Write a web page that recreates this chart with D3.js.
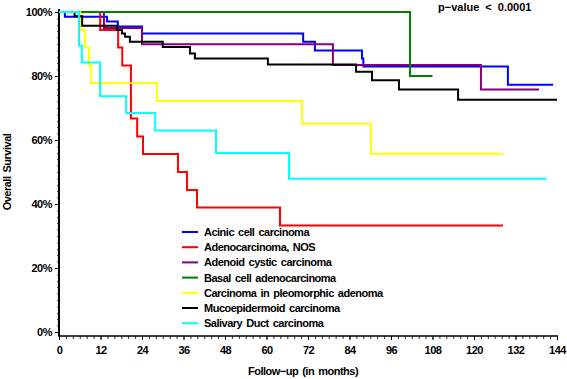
<!DOCTYPE html>
<html lang="en">
<head>
<meta charset="UTF-8">
<title>Overall Survival</title>
<style>
  body { margin: 0; background: #fff; }
  text { font-family: "Liberation Sans", Arial, sans-serif; font-weight: bold; }
</style>
</head>
<body>
<div id="wrapper"></div>
<script src="https://d3js.org/d3.v7.min.js"></script>
<script>
  // legend order = drawing order
  const groups = ['Acinic cell carcinoma', 'Adenocarcinoma, NOS', 'Adenoid cystic carcinoma',
    'Basal cell adenocarcinoma', 'Carcinoma in pleomorphic adenoma', 'Mucoepidermoid carcinoma',
    'Salivary Duct carcinoma'];
  const colors = ['#0000ff', '#ff0000', '#800080', '#008000', '#ffff00', '#000000', '#00ffff'];

  // step times (months) and survival (%), last point = end of follow-up
  const acinicT = [0, 1.7, 13.9, 17, 24, 70.6, 74, 87.6, 88, 129.8, 142.9];
  const acinicS = [100, 98.5, 97, 95.5, 93.3, 90.7, 88, 85.5, 83, 77.3, 77.3];
  const adenoT = [0, 11.9, 17.1, 18.3, 20.8, 22.6, 24.3, 34.4, 37, 39.9, 63.9, 128.4];
  const adenoS = [100, 94.4, 88.9, 83.3, 66.7, 61.1, 55.6, 50, 44.4, 38.9, 33.3, 33.3];
  const cysticT = [0, 13, 24, 79.2, 122, 138.8];
  const cysticS = [100, 95, 89.9, 83.4, 75.8, 75.8];
  const basalT = [0, 101.5, 108];
  const basalS = [100, 80, 80];
  const pleoT = [0, 6.1, 7.5, 8.7, 9.3, 28.3, 70.3, 90.2, 128.4];
  const pleoS = [100, 94.4, 88.9, 83.3, 77.8, 72.2, 65.1, 55.7, 55.7];
  const mucoT = [0, 4.5, 6.7, 16.8, 18.2, 19.1, 20.5, 30, 37.9, 39.3, 60.4, 85.9, 90.5, 98.3, 115.4, 144];
  const mucoS = [100, 98.7, 95.7, 94.4, 93.3, 92.3, 90.7, 89.1, 87, 85.5, 83.6, 81.3, 78.7, 75.8, 72.6, 72.6];
  const ductT = [0, 5.8, 6.6, 11.9, 19.4, 27.8, 45.4, 66.5, 141];
  const ductS = [100, 89.5, 84.2, 73.7, 68.4, 63, 55.9, 47.9, 47.9];

  const seriesT = [acinicT, adenoT, cysticT, basalT, pleoT, mucoT, ductT];
  const seriesS = [acinicS, adenoS, cysticS, basalS, pleoS, mucoS, ductS];

  const xTicks = d3.range(0, 145, 12);
  const yTicks = [0, 20, 40, 60, 80, 100];

  const width = 567, height = 379;
  const svg = d3.select('#wrapper').append('svg')
    .attr('width', width)
    .attr('height', height);

  const x = d3.scaleLinear().domain([0, 144]).range([59, 557]);
  const y = d3.scaleLinear().domain([0, 100]).range([332, 12]);
  const axisY = 336;

  // y axis: minor ticks every 2%
  svg.append('g')
    .attr('transform', 'translate(59,0)')
    .call(d3.axisLeft(y).tickValues(d3.range(0, 101, 2)).tickSize(2).tickFormat(''))
    .call(g => g.select('.domain').remove())
    .call(g => g.selectAll('line').attr('stroke', '#000').attr('stroke-width', 0.8));
  svg.append('g')
    .attr('transform', 'translate(59,0)')
    .call(d3.axisLeft(y).tickValues(yTicks).tickSize(4).tickPadding(3).tickFormat(d => d + '%'))
    .call(g => g.select('.domain').remove())
    .call(g => g.selectAll('text').attr('font-size', 11).attr('fill', '#000').style('letter-spacing', '-0.5px'));
  svg.append('line')
    .attr('x1', 59).attr('x2', 59).attr('y1', 9).attr('y2', axisY)
    .attr('stroke', '#000').attr('stroke-width', 2);

  // x axis: minor ticks every 2 months
  svg.append('g')
    .attr('transform', `translate(0,${axisY})`)
    .call(d3.axisBottom(x).tickValues(d3.range(0, 145, 2)).tickSize(3).tickFormat(''))
    .call(g => g.select('.domain').remove())
    .call(g => g.selectAll('line').attr('stroke', '#000').attr('stroke-width', 0.8));
  svg.append('g')
    .attr('transform', `translate(0,${axisY})`)
    .call(d3.axisBottom(x).tickValues(xTicks).tickSize(4).tickPadding(6))
    .call(g => g.select('.domain').remove())
    .call(g => g.selectAll('text').attr('font-size', 11).attr('fill', '#000').style('letter-spacing', '-0.5px'));
  svg.append('line')
    .attr('x1', 58).attr('x2', 558).attr('y1', axisY).attr('y2', axisY)
    .attr('stroke', '#000').attr('stroke-width', 1.5);

  // survival curves
  const line = d3.line()
    .x(d => x(d[0]))
    .y(d => y(d[1]))
    .curve(d3.curveStepAfter);

  seriesT.forEach((ts, i) => {
    const pts = ts.map((t, j) => [t, seriesS[i][j]]);
    svg.append('path')
      .datum(pts)
      .attr('d', line)
      .attr('fill', 'none')
      .attr('stroke', colors[i])
      .attr('stroke-width', 2);
  });

  // legend
  const legend = svg.append('g').attr('transform', 'translate(182,232)');
  groups.forEach((name, i) => {
    const row = legend.append('g').attr('transform', `translate(0,${i * 15.2})`);
    row.append('line')
      .attr('x1', 0).attr('x2', 16).attr('y1', 0).attr('y2', 0)
      .attr('stroke', colors[i]).attr('stroke-width', 2);
    row.append('text')
      .attr('x', 22).attr('y', 4)
      .attr('font-size', 11)
      .style('letter-spacing', '-0.5px')
      .style('word-spacing', '1.5px')
      .text(name);
  });

  // titles
  svg.append('text')
    .attr('x', 303).attr('y', 375)
    .attr('text-anchor', 'middle')
    .attr('font-size', 11)
    .style('letter-spacing', '-0.5px')
    .style('word-spacing', '1.5px')
    .text('Follow\u2212up (in months)');

  svg.append('text')
    .attr('transform', 'translate(11,172) rotate(-90)')
    .attr('text-anchor', 'middle')
    .attr('font-size', 11)
    .style('letter-spacing', '-0.5px')
    .style('word-spacing', '1.5px')
    .text('Overall Survival');

  svg.append('text')
    .attr('x', 438).attr('y', 11)
    .attr('font-size', 11)
    .style('word-spacing', '3px')
    .text('p\u2212value < 0.0001');
</script>
</body>
</html>
